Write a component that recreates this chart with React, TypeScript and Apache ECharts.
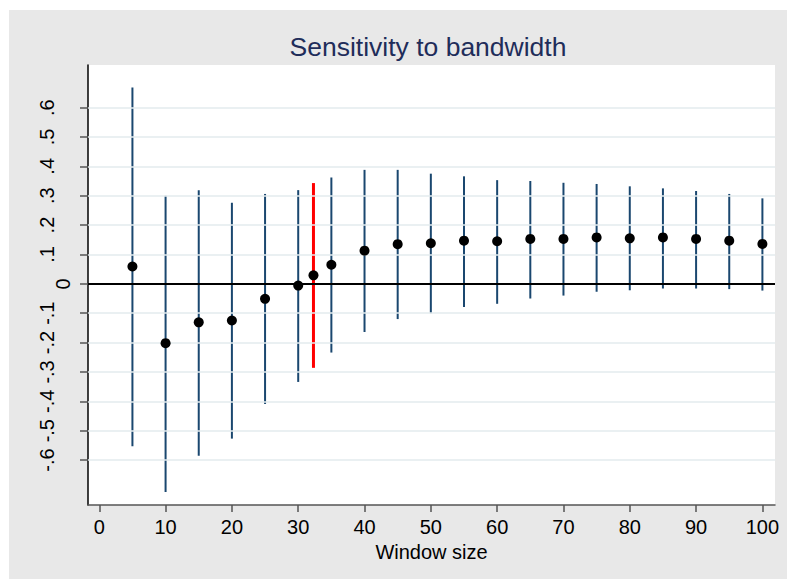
import React, { useEffect, useRef } from "react";
import * as echarts from "echarts";

const windows = [5, 10, 15, 20, 25, 30, 35, 40, 45, 50, 55, 60, 65, 70, 75, 80, 85, 90, 95, 100];
const estimates = [0.059, -0.202, -0.131, -0.125, -0.051, -0.006, 0.065, 0.113, 0.135, 0.138, 0.147, 0.145, 0.153, 0.153, 0.158, 0.155, 0.158, 0.153, 0.147, 0.136];
const upper = [0.668, 0.3, 0.319, 0.276, 0.306, 0.319, 0.362, 0.388, 0.388, 0.375, 0.366, 0.353, 0.35, 0.344, 0.34, 0.332, 0.325, 0.316, 0.306, 0.291];
const lower = [-0.553, -0.709, -0.585, -0.527, -0.409, -0.334, -0.234, -0.164, -0.12, -0.1, -0.079, -0.068, -0.05, -0.04, -0.027, -0.022, -0.016, -0.016, -0.018, -0.023];

const optimalWindow = [32.3];
const optimalEstimate = [0.029];
const optimalUpper = [0.343];
const optimalLower = [-0.286];

const xTicks = [0, 10, 20, 30, 40, 50, 60, 70, 80, 90, 100];
const yTicks = [-0.6, -0.5, -0.4, -0.3, -0.2, -0.1, 0.1, 0.2, 0.3, 0.4, 0.5, 0.6];
const yTickLabels = ["-.6", "-.5", "-.4", "-.3", "-.2", "-.1", ".1", ".2", ".3", ".4", ".5", ".6"];
const yZeroTick = [0];
const gridValues = [-0.6, -0.5, -0.4, -0.3, -0.2, -0.1, 0.1, 0.2, 0.3, 0.4, 0.5, 0.6];

const FONT = "'Liberation Sans', Arial, Helvetica, sans-serif";

export default function App() {
  const ref = useRef<HTMLDivElement>(null);
  useEffect(() => {
    if (!ref.current) return;
    const chart = echarts.init(ref.current, undefined, { renderer: "svg" });
    const barData = windows.map((w, i) => [w, lower[i], upper[i]]);
    const optData = optimalWindow.map((w, i) => [w, optimalLower[i], optimalUpper[i]]);
    const dotData = windows.map((w, i) => [w, estimates[i]]).concat(
      optimalWindow.map((w, i) => [w, optimalEstimate[i]])
    );
    const makeRender = (color: string, width: number) => (params: any, api: any) => {
      const p1 = api.coord([api.value(0), api.value(1)]);
      const p2 = api.coord([api.value(0), api.value(2)]);
      return {
        type: "line",
        shape: { x1: p1[0], y1: p1[1], x2: p2[0], y2: p2[1] },
        style: { stroke: color, lineWidth: width },
      };
    };
    chart.setOption({
      animation: false,
      backgroundColor: "#E8E8E8",
      textStyle: { fontFamily: FONT },
      graphic: [
        {
          type: "text",
          x: 419,
          y: 37,
          style: {
            text: "Sensitivity to bandwidth",
            fontFamily: FONT,
            fontSize: 26.5,
            fill: "#1f2d5a",
            textAlign: "center",
            textVerticalAlign: "middle",
          },
        },
      ],
      grid: {
        left: 79,
        top: 55,
        right: 12,
        bottom: 74,
        show: true,
        backgroundColor: "#ffffff",
        borderWidth: 0,
      },
      xAxis: {
        type: "value",
        min: -1.7,
        max: 101.9,
        name: "Window size",
        nameLocation: "middle",
        nameGap: 32,
        nameTextStyle: { fontFamily: FONT, fontSize: 20, color: "#000" },
        axisLine: { show: true, onZero: false, lineStyle: { color: "#555", width: 1.5 } },
        axisTick: { show: true, customValues: xTicks, length: 7, lineStyle: { color: "#555", width: 1.5 } },
        axisLabel: { customValues: xTicks, margin: 12, fontFamily: FONT, fontSize: 20, color: "#000" },
        splitLine: { show: false },
      },
      yAxis: [
        {
          type: "value",
          min: -0.753,
          max: 0.745,
          position: "left",
          axisLine: { show: true, onZero: false, lineStyle: { color: "#000", width: 1.5 } },
          axisTick: { show: true, customValues: yTicks.concat(yZeroTick), length: 8, lineStyle: { color: "#555", width: 1.5 } },
          axisLabel: {
            customValues: yTicks,
            rotate: 90,
            margin: 31,
            fontFamily: FONT,
            fontSize: 20,
            color: "#000",
            formatter: (v: number) => {
              const idx = yTicks.findIndex((t) => Math.abs(t - v) < 1e-6);
              return idx >= 0 ? yTickLabels[idx] : "";
            },
          },
          splitLine: { show: false },
        },
        {
          type: "value",
          min: -0.753,
          max: 0.745,
          position: "left",
          offset: 0,
          axisLine: { show: false },
          axisTick: { show: false },
          axisLabel: {
            customValues: yZeroTick,
            rotate: 90,
            margin: 15,
            fontFamily: FONT,
            fontSize: 20,
            color: "#000",
            formatter: () => "0",
          },
          splitLine: { show: false },
        },
      ],
      series: [
        {
          type: "line",
          data: [],
          z: 1,
          silent: true,
          markLine: {
            silent: true,
            symbol: "none",
            label: { show: false },
            animation: false,
            lineStyle: { color: "#E3EBEE", width: 1.5, type: "solid" },
            data: gridValues.map((v) => ({ yAxis: v })),
          },
        },
        {
          type: "line",
          data: [],
          z: 2,
          silent: true,
          markLine: {
            silent: true,
            symbol: "none",
            label: { show: false },
            animation: false,
            lineStyle: { color: "#000", width: 1.8, type: "solid" },
            data: [{ yAxis: 0 }],
          },
        },
        {
          type: "custom",
          z: 3,
          renderItem: makeRender("#1A476F", 2),
          encode: { x: 0, y: [1, 2] },
          data: barData,
        },
        {
          type: "custom",
          z: 4,
          renderItem: makeRender("#FF0000", 3),
          encode: { x: 0, y: [1, 2] },
          data: optData,
        },
        {
          type: "scatter",
          z: 5,
          symbol: "circle",
          symbolSize: 10,
          itemStyle: { color: "#000", opacity: 1 },
          data: dotData,
        },
      ],
    });
    return () => chart.dispose();
  }, []);
  return (
    <div
      ref={ref}
      style={{ position: "fixed", left: 9, top: 10, width: 778, height: 569 }}
    />
  );
}
